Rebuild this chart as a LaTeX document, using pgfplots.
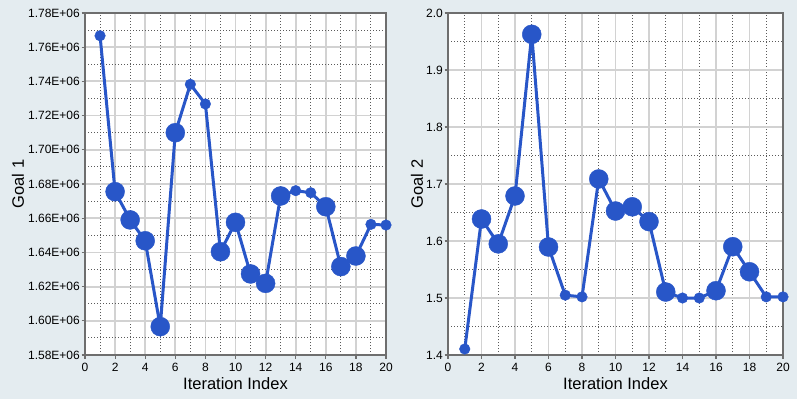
\documentclass[border=0pt]{standalone}
\usepackage{pgfplots}
\pgfplotsset{compat=1.18}
\usepackage{pgfplotstable}
\usepackage{fontspec}
\setmainfont{Liberation Sans}
\definecolor{bg}{RGB}{228,236,240}
\definecolor{ln}{RGB}{40,86,200}
\definecolor{axc}{RGB}{110,110,110}
\definecolor{grd}{RGB}{210,210,210}
\definecolor{mgrd}{RGB}{90,90,90}

\pgfplotstableread{
x y s
1 1.7667e6 5.3
2 1.6755e6 9.5
3 1.6590e6 9.5
4 1.6468e6 9.5
5 1.5966e6 9.5
6 1.7100e6 9.5
7 1.7383e6 5.3
8 1.7268e6 5.3
9 1.6404e6 9.5
10 1.6576e6 9.5
11 1.6274e6 9.5
12 1.6219e6 9.5
13 1.6730e6 9.5
14 1.6761e6 5.3
15 1.6749e6 5.3
16 1.6667e6 9.5
17 1.6317e6 9.5
18 1.6379e6 9.5
19 1.6564e6 5.3
20 1.6560e6 5.3
}\goalone

\pgfplotstableread{
x y s
1 1.4105 5.3
2 1.6386 9.5
3 1.5950 9.5
4 1.6790 9.5
5 1.9626 9.5
6 1.5895 9.5
7 1.5050 5.3
8 1.5020 5.3
9 1.7088 9.5
10 1.6526 9.5
11 1.6600 9.5
12 1.6340 9.5
13 1.5105 9.5
14 1.5000 5.3
15 1.5000 5.3
16 1.5128 9.5
17 1.5900 9.5
18 1.5460 9.5
19 1.5020 5.3
20 1.5020 5.3
}\goaltwo

\pgfplotsset{mystyle/.style={
  scale only axis, height=342pt,
  xmin=0, xmax=20, xtick={0,2,...,20}, minor x tick num=1,
  minor y tick num=1,
  grid=both,
  major grid style={grd, line width=1.8pt},
  minor grid style={mgrd, line width=1pt, dash pattern=on 1pt off 2pt},
  axis line style={axc, line width=2pt},
  tick align=outside, major tick length=3.5pt, minor tick length=0pt,
  xtick pos=left, ytick pos=left,
  major tick style={axc, line width=1.2pt},
  ticklabel style={font=\fontsize{12}{13}\selectfont, inner sep=1.5pt},
  xticklabel style={yshift=-3pt},
  /pgf/number format/assume math mode=true,
  axis background/.style={fill=white},
  xlabel={Iteration Index},
  xlabel style={font=\fontsize{16.5}{18}\selectfont, at={(axis description cs:0.5,0)}, anchor=base, yshift=-34pt},
  ylabel style={font=\fontsize{16.5}{18}\selectfont},
  clip=false,
}}

\pgfplotsset{linestyle/.style={ln, line width=3pt, no marks},
  markstyle/.style={scatter, only marks, mark=*,
    scatter/use mapped color={draw=ln, fill=ln},
    point meta=explicit,
    visualization depends on={\thisrow{s} \as \ms},
    scatter/@pre marker code/.append style={/tikz/mark size=\ms pt}}}

\begin{document}
\begin{tikzpicture}[x=1pt,y=1pt]
\fill[bg] (0,0) rectangle (797,399);
\begin{axis}[mystyle, at={(85pt,44pt)}, anchor=south west, width=301pt,
  ymin=1.58e6, ymax=1.78e6,
  ytick={1.58e6,1.60e6,1.62e6,1.64e6,1.66e6,1.68e6,1.70e6,1.72e6,1.74e6,1.76e6,1.78e6},
  yticklabels={1.58E+06,1.60E+06,1.62E+06,1.64E+06,1.66E+06,1.68E+06,1.70E+06,1.72E+06,1.74E+06,1.76E+06,1.78E+06},
  scaled y ticks=false,
  ylabel={Goal 1},
  ylabel style={at={(axis description cs:-0.2226,0.5)}, anchor=center},
]
\addplot[linestyle] table[x=x,y=y] {\goalone};
\addplot[markstyle] table[x=x,y=y,meta=s] {\goalone};
\end{axis}
\begin{axis}[mystyle, at={(448pt,44pt)}, anchor=south west, width=335pt,
  ymin=1.4, ymax=2.0,
  ytick={1.4,1.5,1.6,1.7,1.8,1.9,2.0},
  yticklabels={1.4,1.5,1.6,1.7,1.8,1.9,2.0},
  ylabel={Goal 2},
  ylabel style={at={(axis description cs:-0.0925,0.5)}, anchor=center},
]
\addplot[linestyle] table[x=x,y=y] {\goaltwo};
\addplot[markstyle] table[x=x,y=y,meta=s] {\goaltwo};
\end{axis}
\end{tikzpicture}
\end{document}
